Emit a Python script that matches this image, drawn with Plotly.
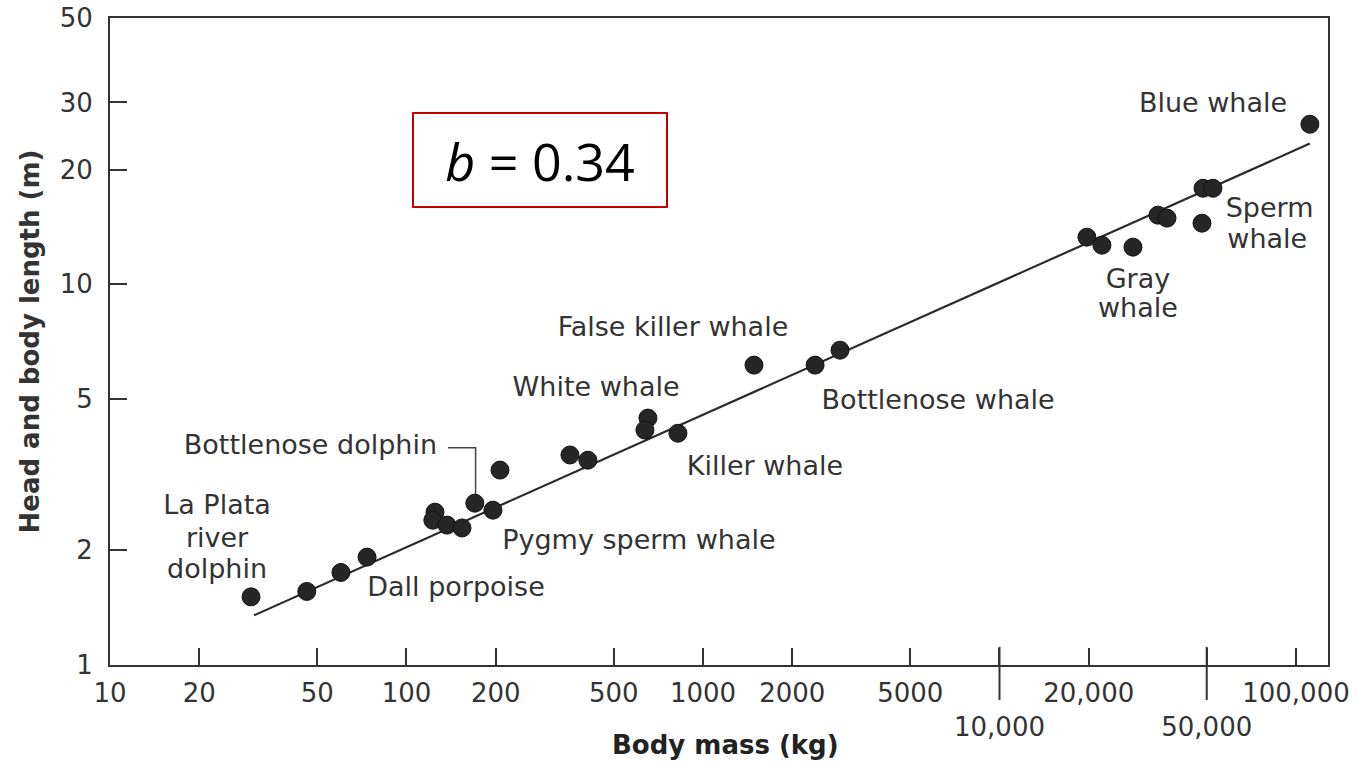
import numpy as np
import plotly.graph_objects as go

# ---- data ----
mass_kg = [29.9, 46.1, 60.1, 73.6, 124.8, 122.7, 137, 153.9, 170, 195.7, 206.7,
           355.9, 409, 652, 637, 823, 1486, 2388, 2898,
           19720, 22160, 28200, 34240, 36730, 48200, 48580, 52480, 111400]
length_m = [1.51, 1.56, 1.75, 1.92, 2.52, 2.40, 2.33, 2.29, 2.66, 2.55, 3.25,
            3.56, 3.45, 4.45, 4.14, 4.06, 6.13, 6.13, 6.71,
            13.29, 12.66, 12.51, 15.18, 14.91, 14.46, 17.86, 17.86, 26.3]

fit_mass = [30.6, 111400]
fit_length = [1.35, 23.4]

# species labels, one entry per text line
species_labels = ["Blue whale", "Sperm", "whale", "Gray", "whale", "False killer whale",
                  "Bottlenose whale", "White whale", "Killer whale", "Bottlenose dolphin",
                  "Pygmy sperm whale", "La Plata", "river", "dolphin", "Dall porpoise"]
label_mass = [52500, 81500, 80000, 29300, 29300, 792, 6210, 436, 1618, 126.8,
              608, 22.96, 22.96, 22.96, 146.9]
label_length = [29.5, 15.6, 13.0, 10.2, 8.52, 7.62, 4.9, 5.3, 3.29, 3.73,
                2.1, 2.60, 2.13, 1.766, 1.58]
label_pos = ["middle center"] * 9 + ["middle left"] + ["middle center"] * 5

leader_mass = [138, 171, 171]
leader_length = [3.72, 3.72, 2.76]

x_tickvals = [10, 20, 50, 100, 200, 500, 1000, 2000, 5000, 10000, 20000, 50000, 100000]
x_ticktext = ["10", "20", "50", "100", "200", "500", "1000", "2000", "5000",
              "<br>10,000", "20,000", "<br>50,000", "100,000"]
long_ticks = [10000, 50000]
y_tickvals = [1, 2, 5, 10, 20, 30, 50]
y_ticktext = ["1", "2", "5", "10", "20", "30", "50"]

exponent_text = "<i>b</i> = 0.34"

INK = "#2a2a2a"
FONT = "DejaVu Sans"
X_RANGE = [1, 5.108]

fig = go.Figure()

fig.add_trace(go.Scatter(x=fit_mass, y=fit_length, mode="lines",
                         line=dict(color=INK, width=2.2), showlegend=False, hoverinfo="skip"))
fig.add_trace(go.Scatter(x=leader_mass, y=leader_length, mode="lines",
                         line=dict(color="#444", width=1.5), showlegend=False, hoverinfo="skip"))
fig.add_trace(go.Scatter(x=mass_kg, y=length_m, mode="markers",
                         marker=dict(size=18, color="#262626",
                                     line=dict(color="#111", width=1)),
                         showlegend=False))
fig.add_trace(go.Scatter(x=label_mass, y=label_length, mode="text", text=species_labels,
                         textposition=label_pos,
                         textfont=dict(family=FONT, size=27, color="#333"),
                         showlegend=False, hoverinfo="skip"))

shapes = []
for v in long_ticks:
    px = (np.log10(v) - X_RANGE[0]) / (X_RANGE[1] - X_RANGE[0])
    shapes.append(dict(type="line", xref="paper", yref="paper", x0=px, x1=px,
                       y0=-0.054, y1=0.028, line=dict(color="#333", width=2)))

axis_common = dict(showline=True, mirror=True, linecolor="#333", linewidth=2,
                   ticks="inside", ticklen=17, tickwidth=1.6, tickcolor="#333",
                   showgrid=False, zeroline=False, automargin=False, tickangle=0,
                   tickfont=dict(family=FONT, size=26, color="#333"))

fig.update_layout(
    width=1363, height=761, autosize=False,
    margin=dict(l=110, r=35, t=18, b=96),
    paper_bgcolor="white", plot_bgcolor="white",
    xaxis=dict(type="log", range=X_RANGE, tickmode="array",
               tickvals=x_tickvals, ticktext=x_ticktext, ticklabelstandoff=4,
               **axis_common),
    yaxis=dict(type="log", range=[0, np.log10(50)], tickmode="array",
               tickvals=y_tickvals, ticktext=y_ticktext, ticklabelstandoff=10,
               **axis_common),
    shapes=shapes,
    annotations=[
        dict(text="<b>Body mass (kg)</b>", xref="paper", yref="paper", x=0.5056, y=-0.1236,
             xanchor="center", yanchor="middle", showarrow=False,
             font=dict(family=FONT, size=26, color="#222")),
        dict(text="<b>Head and body length (m)</b>", xref="paper", yref="paper",
             x=-0.0657, y=0.5, textangle=-90, xanchor="center", yanchor="middle",
             showarrow=False, font=dict(family=FONT, size=26, color="#333")),
        dict(text=exponent_text, xref="paper", yref="paper", x=0.353, y=0.7805,
             xanchor="center", yanchor="middle", showarrow=False,
             width=252, height=92, borderpad=0, bordercolor="#C00000", borderwidth=2,
             bgcolor="white", font=dict(family="Open Sans", size=52, color="black")),
    ],
)

fig.write_html("out.html")
